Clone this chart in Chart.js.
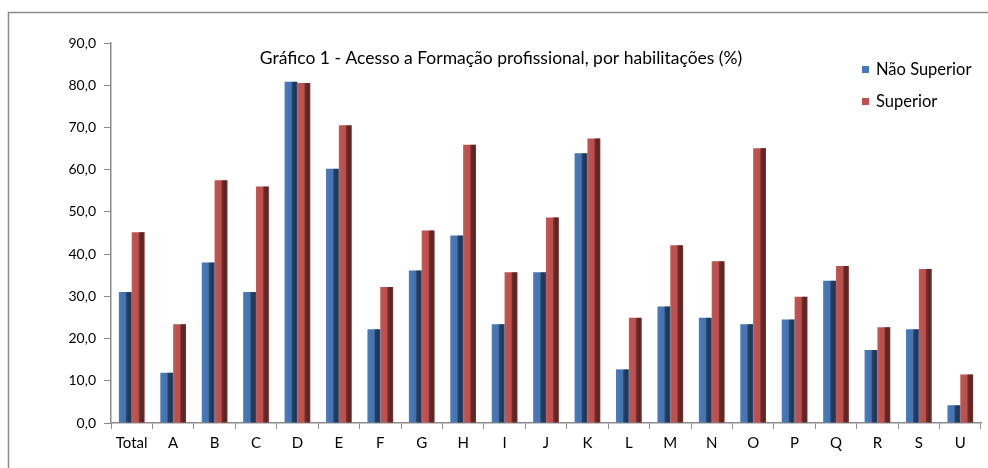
<!DOCTYPE html>
<html>
<head>
<meta charset="utf-8">
<script src="https://cdn.jsdelivr.net/npm/chart.js@4"></script>
<style>
  html, body { margin: 0; padding: 0; background: #fff; }
  canvas { display: block; }
</style>
</head>
<body>
<canvas id="myChart" width="988" height="468"></canvas>
<script>
const labels = ['Total','A','B','C','D','E','F','G','H','I','J','K','L','M','N','O','P','Q','R','S','U'];
const naoSuperior = [31.0, 11.9, 38.0, 31.0, 80.8, 60.2, 22.2, 36.1, 44.4, 23.4, 35.7, 63.9, 12.7, 27.6, 24.9, 23.4, 24.5, 33.7, 17.3, 22.2, 4.2];
const superior    = [45.2, 23.4, 57.5, 56.0, 80.5, 70.5, 32.2, 45.6, 65.9, 35.7, 48.7, 67.4, 24.9, 42.1, 38.3, 65.1, 29.9, 37.2, 22.7, 36.5, 11.5];
const yTicks = [0, 10, 20, 30, 40, 50, 60, 70, 80, 90];
const titleText = 'Gráfico 1 - Acesso a Formação profissional, por habilitações (%)';

const FONT = 'Lato, "Open Sans", sans-serif';

// frame, title and legend drawn Excel-style, on top of the plot
const decor = {
  id: 'decor',
  beforeDraw(chart) {
    const ctx = chart.ctx;
    ctx.save();
    ctx.strokeStyle = '#8c8c8c';
    ctx.lineWidth = 1.5;
    ctx.beginPath();
    ctx.moveTo(8.5, 470);
    ctx.lineTo(8.5, 12.5);
    ctx.lineTo(990, 12.5);
    ctx.stroke();
    ctx.restore();
  },
  afterDatasetsDraw(chart) {
    const ctx = chart.ctx;
    // shading on the right side of each bar (3D column look)
    chart.data.datasets.forEach((ds, di) => {
      chart.getDatasetMeta(di).data.forEach(bar => {
        const left = bar.x - bar.width / 2;
        const g = ctx.createLinearGradient(left, 0, left + bar.width, 0);
        g.addColorStop(0, 'rgba(255,255,255,0.05)');
        g.addColorStop(0.5, 'rgba(0,0,0,0)');
        g.addColorStop(0.62, 'rgba(0,0,0,0.45)');
        g.addColorStop(0.85, 'rgba(0,0,0,0.55)');
        g.addColorStop(1, 'rgba(0,0,0,0.35)');
        ctx.fillStyle = g;
        ctx.fillRect(left, bar.y, bar.width, bar.base - bar.y);
      });
    });
    ctx.save();
    ctx.fillStyle = '#000';
    ctx.font = '17.5px ' + FONT;
    ctx.textAlign = 'center';
    ctx.textBaseline = 'middle';
    ctx.fillText(titleText, 501, 58);

    ctx.font = '16.5px ' + FONT;
    ctx.textAlign = 'left';
    chart.data.datasets.forEach((ds, i) => {
      const y = 70 + i * 32;
      ctx.fillStyle = ds.backgroundColor;
      ctx.fillRect(862, y - 4, 7, 7);
      ctx.fillStyle = '#000';
      ctx.fillText(ds.label, 876, y);
    });
    ctx.restore();
  }
};

const data = {
  labels: labels,
  datasets: [{
    label: 'Não Superior',
    data: naoSuperior,
    backgroundColor: '#4576b5'
  }, {
    label: 'Superior',
    data: superior,
    backgroundColor: '#c0504d'
  }]
};

const config = {
  type: 'bar',
  data: data,
  options: {
    responsive: false,
    animation: false,
    devicePixelRatio: 1,
    categoryPercentage: 0.62,
    barPercentage: 1.0,
    layout: { padding: { top: 43, right: 7, left: 0, bottom: 0 } },
    plugins: {
      legend: { display: false },
      title: { display: false },
      tooltip: { enabled: false }
    },
    scales: {
      x: {
        grid: { drawOnChartArea: false, tickLength: 6, color: '#8c8c8c', offset: true },
        border: { color: '#8c8c8c', width: 1.5 },
        ticks: { color: '#000', font: { family: FONT, size: 15 }, padding: 5, maxRotation: 0 },
        afterFit(scale) { scale.height = 45; }
      },
      y: {
        min: 0,
        max: 90,
        afterBuildTicks(scale) { scale.ticks = yTicks.map(v => ({ value: v })); },
        grid: { drawOnChartArea: false, tickLength: 7, color: '#8c8c8c' },
        border: { color: '#8c8c8c', width: 1.5 },
        ticks: {
          color: '#000',
          font: { family: FONT, size: 14 },
          padding: 8,
          callback: v => v.toFixed(1).replace('.', ',')
        },
        afterFit(scale) { scale.width = 111; }
      }
    }
  },
  plugins: [decor]
};

var myChart = new Chart(
  document.getElementById('myChart'),
  config
);
</script>
</body>
</html>
